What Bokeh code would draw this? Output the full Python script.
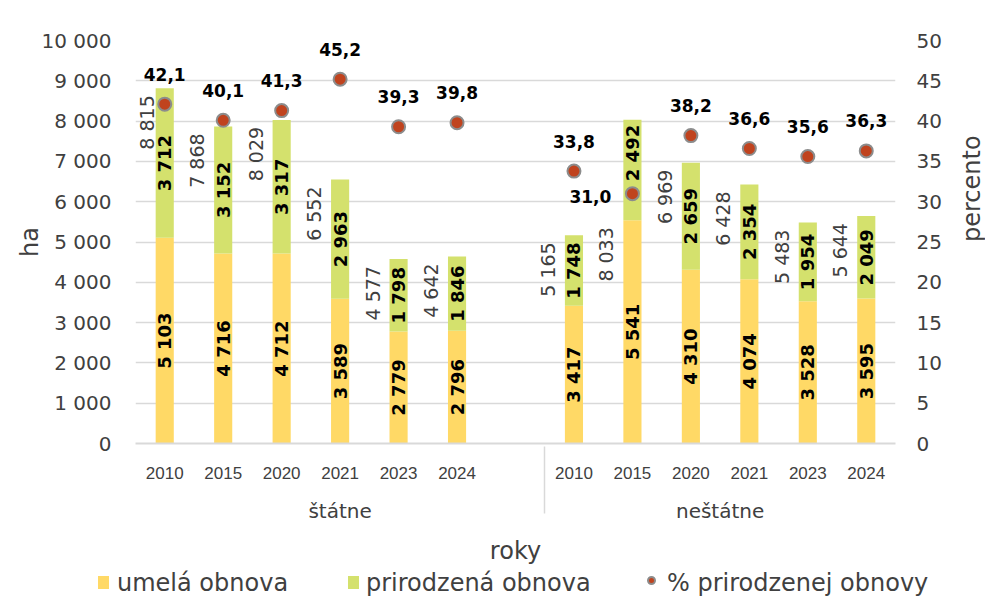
import math
from bokeh.plotting import figure
from bokeh.layouts import column
from bokeh.models import (ColumnDataSource, FactorRange, Range1d, LinearAxis,
                          SingleIntervalTicker, CustomJSTickFormatter, LabelSet,
                          Div)
from bokeh.core.properties import value
from bokeh.embed import file_html
from bokeh.resources import INLINE

# ---------------- data ----------------
groups = ["štátne", "neštátne"]
years = ["2010", "2015", "2020", "2021", "2023", "2024"]
umela_statne = [5103, 4716, 4712, 3589, 2779, 2796]
prirodzena_statne = [3712, 3152, 3317, 2963, 1798, 1846]
spolu_statne = [8815, 7868, 8029, 6552, 4577, 4642]
pct_statne = [42.1, 40.1, 41.3, 45.2, 39.3, 39.8]
umela_nestatne = [3417, 5541, 4310, 4074, 3528, 3595]
prirodzena_nestatne = [1748, 2492, 2659, 2354, 1954, 2049]
spolu_nestatne = [5165, 8033, 6969, 6428, 5483, 5644]
pct_nestatne = [33.8, 31.0, 38.2, 36.6, 35.6, 36.3]
series_names = ["umelá obnova", "prirodzená obnova", "% prirodzenej obnovy"]

# ---------------- styles ----------------
YELLOW = "#FFD966"
GREEN = "#D4E16D"
RED = "#C0431E"
DOT_LINE = "#8C8C8C"
GRID = "#D9D9D9"
TXT = "#404040"
FONT = "DejaVu Sans"

factors = ([(groups[0], y) for y in years] + [(groups[0], "")] +
           [(groups[1], y) for y in years])
xs = [(groups[0], y) for y in years] + [(groups[1], y) for y in years]
umela = umela_statne + umela_nestatne
prir = prirodzena_statne + prirodzena_nestatne
spolu = spolu_statne + spolu_nestatne
pct = pct_statne + pct_nestatne
top = [u + g for u, g in zip(umela, prir)]


def fmt(n):
    return f"{n:,}".replace(",", " ")


special = (groups[1], "2015")   # labels moved by hand in the original
first = (groups[0], "2010")
tot_anchor = [u if x == special else t for x, u, t in zip(xs, umela, top)]
tot_dx = [-18 if x == first else -26 for x in xs]
g_dy = [-17 if x == special else 0 for x in xs]
pct_dx = [-42 if x == special else 0 for x in xs]
pct_dy = [3 if x == special else -30 for x in xs]

src = ColumnDataSource(dict(
    x=xs, u=umela, g=prir, top=top, pct=pct,
    u_mid=[u / 2 for u in umela],
    g_mid=[u + g / 2 for u, g in zip(umela, prir)],
    u_lbl=[fmt(v) for v in umela],
    g_lbl=[fmt(v) for v in prir],
    tot_lbl=[fmt(v) for v in spolu],
    tot_anchor=tot_anchor,
    pct_lbl=[f"{v:.1f}".replace(".", ",") for v in pct],
    tdx=tot_dx, gdy=g_dy, pdx=pct_dx, pdy=pct_dy,
))

p = figure(x_range=FactorRange(factors=factors, group_padding=0, range_padding=0,
                               factor_padding=0),
           y_range=Range1d(0, 10000), title=None,
           frame_width=760, frame_height=403, output_backend="svg",
           toolbar_location=None,
           min_border_left=135, min_border_right=80, min_border_top=40,
           min_border_bottom=125)
p.outline_line_color = None
p.background_fill_color = "white"
p.border_fill_color = "white"

p.extra_y_ranges = {"pct": Range1d(0, 50)}

# bars
p.vbar(x="x", bottom=0, top="u", width=0.31, fill_color=YELLOW,
       line_color=None, source=src)
p.vbar(x="x", bottom="u", top="top", width=0.31, fill_color=GREEN,
       line_color=None, source=src)

# bar value labels
p.text(x="x", y="u_mid", text="u_lbl", angle=math.pi / 2, text_align="center",
       text_baseline="middle", text_font=value(FONT), text_font_style="bold",
       text_font_size="18px", text_color="black", source=src)
p.text(x="x", y="g_mid", text="g_lbl", angle=math.pi / 2, text_align="center",
       text_baseline="middle", y_offset="gdy", text_font=value(FONT),
       text_font_style="bold", text_font_size="18px", text_color="black",
       source=src)
# totals
p.add_layout(LabelSet(x="x", y="tot_anchor", text="tot_lbl", angle=math.pi / 2,
                      text_align="right", text_baseline="middle", x_offset="tdx",
                      y_offset=-7, text_font=value(FONT),
                      text_font_size=value("19px"), text_color=TXT, source=src))

# percent
p.scatter(x="x", y="pct", y_range_name="pct", size=13, fill_color=RED,
          line_color=DOT_LINE, line_width=2, source=src)
p.text(x="x", y="pct", y_range_name="pct", text="pct_lbl", x_offset="pdx",
       y_offset="pdy", text_align="center", text_baseline="middle",
       text_font=value(FONT), text_font_style="bold", text_font_size="17px",
       text_color="black", source=src)

# axes
fmt_js = CustomJSTickFormatter(code=r"""
return tick.toFixed(0).replace(/\B(?=(\d{3})+(?!\d))/g, ' ');
""")
ya = p.yaxis[0]
ya.ticker = SingleIntervalTicker(interval=1000, num_minor_ticks=0)
ya.formatter = fmt_js
ya.axis_label = "ha"

ra = LinearAxis(y_range_name="pct", axis_label="percento",
                ticker=SingleIntervalTicker(interval=5, num_minor_ticks=0))
p.add_layout(ra, "right")

for a in (ya, ra):
    a.axis_line_color = None
    a.major_tick_line_color = None
    a.minor_tick_line_color = None
    a.major_label_text_font = FONT
    a.major_label_text_font_size = "20px"
    a.major_label_text_color = TXT
    a.axis_label_text_font = FONT
    a.axis_label_text_font_size = "24px"
    a.axis_label_text_font_style = "normal"
    a.axis_label_text_color = TXT
ya.major_label_standoff = 18
ra.major_label_standoff = 15
try:
    ya.axis_label_standoff = -5
except Exception:
    ya.axis_label_standoff = 0
ra.axis_label_standoff = 27
if hasattr(ra, "axis_label_orientation"):
    ra.axis_label_orientation = math.pi / 2

xa = p.xaxis[0]
xa.axis_label = "roky"
xa.axis_line_color = GRID
xa.axis_line_width = 2
xa.major_tick_line_color = None
xa.major_label_text_font = "Liberation Sans"
xa.major_label_text_font_size = "17px"
xa.major_label_text_color = TXT
xa.major_label_standoff = 17
xa.group_text_font = FONT
xa.group_text_font_size = "20px"
xa.group_text_font_style = "normal"
xa.group_text_color = TXT
xa.separator_line_color = GRID
xa.separator_line_width = 1.5
xa.axis_label_text_font = FONT
xa.axis_label_text_font_size = "24px"
xa.axis_label_text_font_style = "normal"
xa.axis_label_text_color = TXT
xa.axis_label_standoff = 11

p.xgrid.grid_line_color = None
p.ygrid.grid_line_color = GRID
p.ygrid.grid_line_width = 1.5

# ---------------- legend strip ----------------
def swatch(left, color, dot=False):
    if dot:
        return (f'<span style="position:absolute; left:{left}px; top:3px; '
                f'width:9px; height:9px; border-radius:50%; background:{color}; '
                f'border:2px solid {DOT_LINE};"></span>')
    return (f'<span style="position:absolute; left:{left}px; top:3px; '
            f'width:11px; height:13px; background:{color};"></span>')


def label(left, text):
    return (f'<span style="position:absolute; left:{left}px; top:-5px; '
            f'line-height:30px;">{text}</span>')


legend_html = (
    f'<div style="position:relative; width:985px; height:30px; '
    f"font-family:'{FONT}'; font-size:24px; color:{TXT}; white-space:nowrap;\">"
    + swatch(93, YELLOW) + label(112, series_names[0])
    + swatch(343, GREEN) + label(361, series_names[1])
    + swatch(642, RED, dot=True) + label(662, series_names[2])
    + '</div>')
leg = Div(text=legend_html, width=985, height=30)

layout = column(p, leg, spacing=0)
open("out.html", "w").write(file_html(layout, INLINE))
